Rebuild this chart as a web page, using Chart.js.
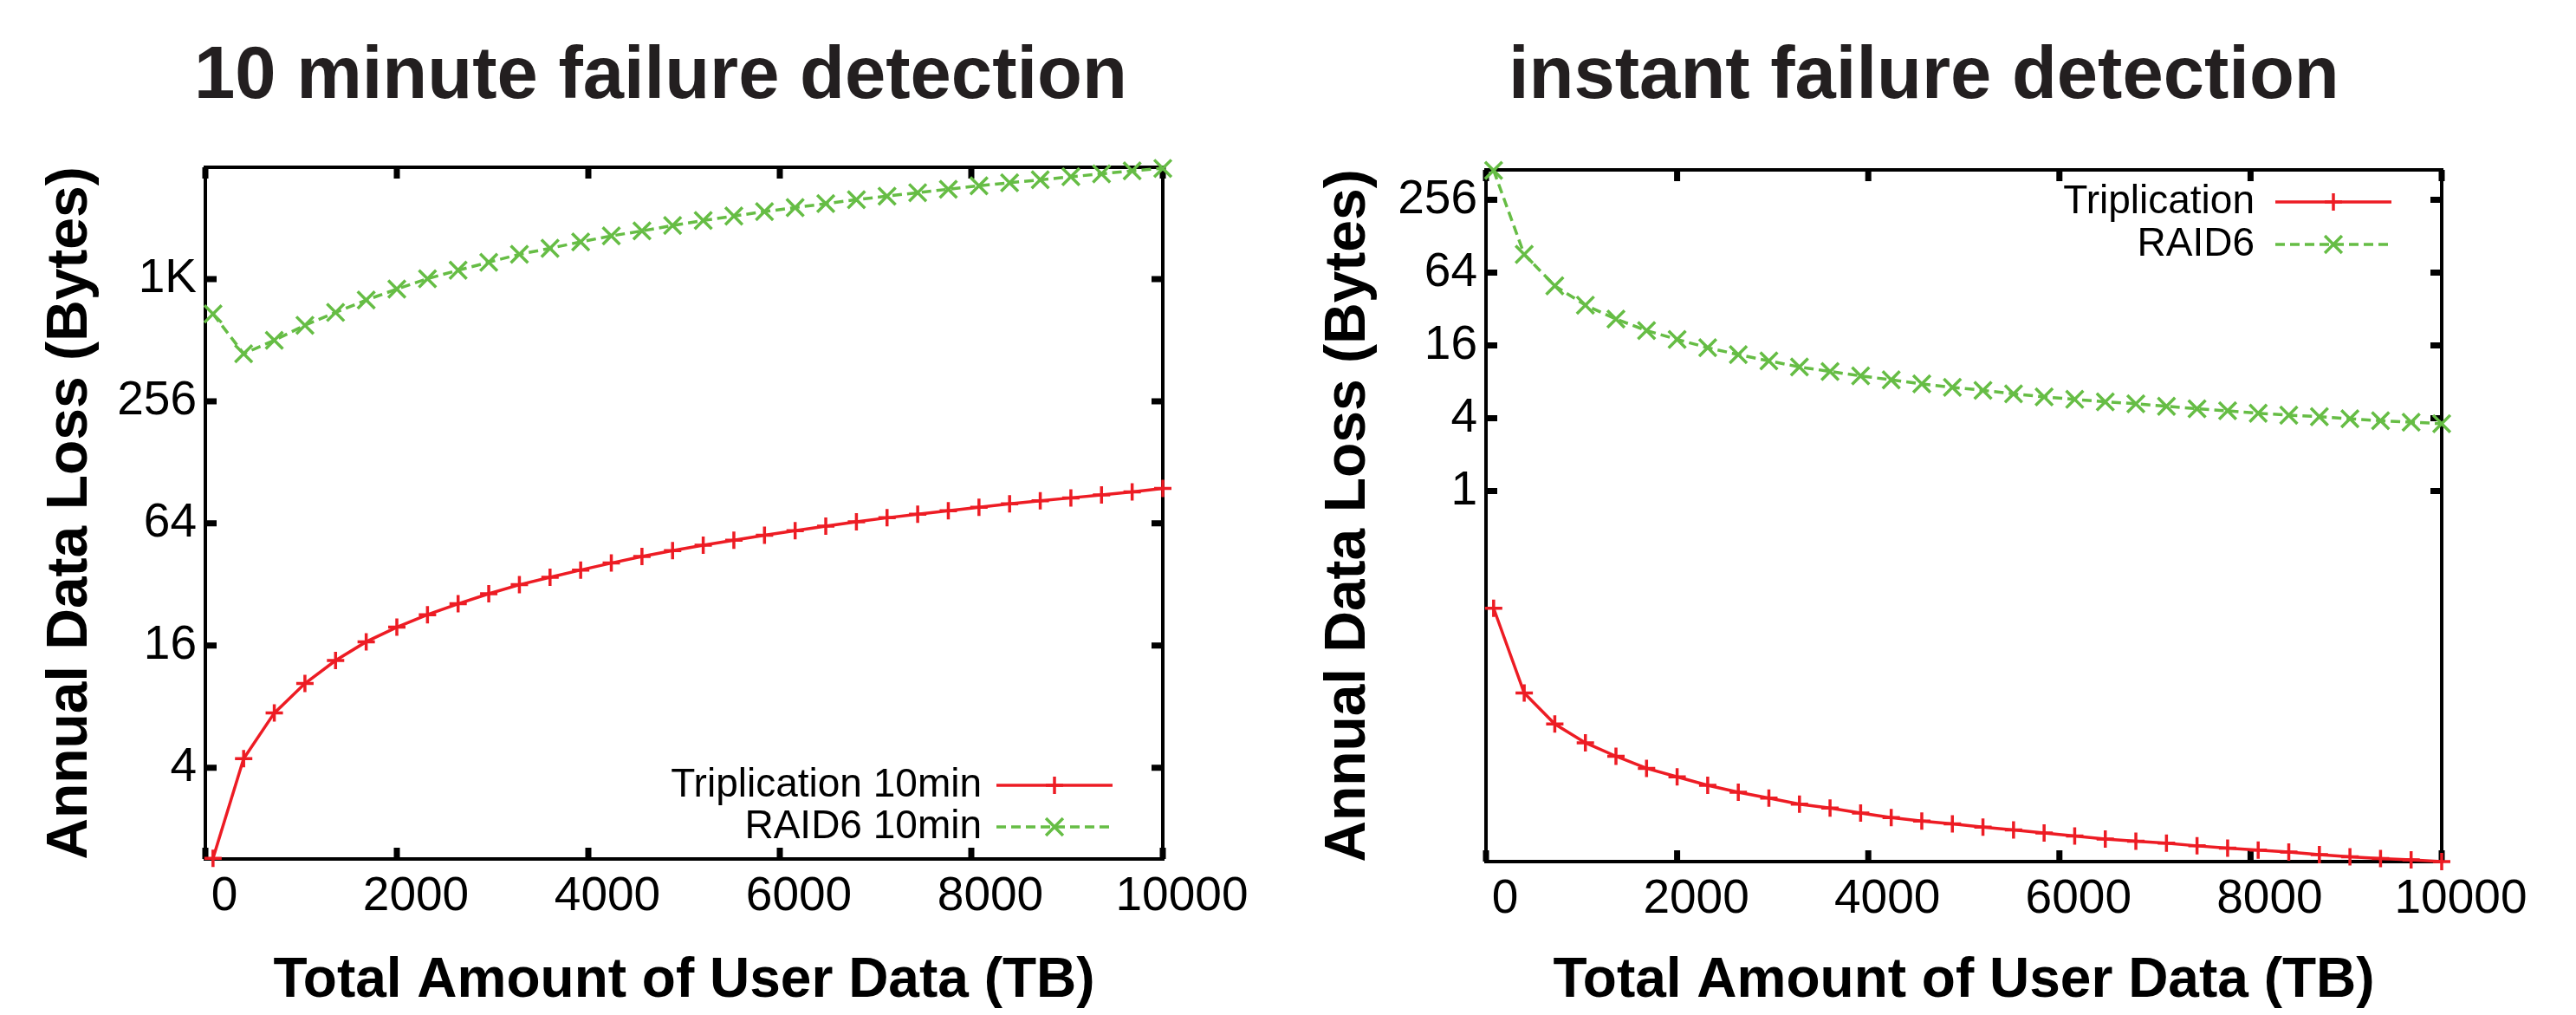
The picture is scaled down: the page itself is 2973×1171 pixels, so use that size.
<!DOCTYPE html>
<html>
<head>
<meta charset="utf-8">
<script src="https://cdn.jsdelivr.net/npm/chart.js@4.4.1/dist/chart.umd.min.js"></script>
<style>
  html, body { margin: 0; padding: 0; background: #fff; }
  #left { position: absolute; left: 0; top: 0; }
  #right { position: absolute; left: 1486px; top: 0; }
</style>
</head>
<body>
<canvas id="left" width="1486" height="1171"></canvas>
<canvas id="right" width="1487" height="1171"></canvas>
<script>
// total amount of user data (TB), shared by all four series
var userData = [80, 400, 720, 1040, 1360, 1680, 2000, 2320, 2640, 2960, 3280, 3600, 3920, 4240, 4560, 4880,
                5200, 5520, 5840, 6160, 6480, 6800, 7120, 7440, 7760, 8080, 8400, 8720, 9040, 9360, 9680, 10000];

// annual data loss (bytes), 10 minute failure detection
var triplication10min = [1.43, 4.43, 7.44, 10.4, 13.5, 16.7, 19.7, 22.7, 25.7, 28.8, 31.9, 34.7, 37.7, 40.8, 44.0, 47.0,
                         50.0, 52.9, 56.0, 58.9, 62.0, 65.2, 68.2, 71.0, 73.9, 76.8, 79.9, 82.7, 85.5, 88.4, 91.5, 95.2];
var raid6_10min = [689, 439, 511, 606, 701, 807, 914, 1028, 1132, 1239, 1356, 1451, 1561, 1671, 1768, 1881,
                   1990, 2093, 2202, 2304, 2410, 2521, 2623, 2729, 2838, 2952, 3054, 3159, 3268, 3380, 3497, 3595];

// annual data loss (bytes), instant failure detection
var triplicationInstant = [0.107, 0.0213, 0.0118, 0.00826, 0.00639, 0.00508, 0.00432, 0.00368, 0.00322, 0.00288, 0.00257,
                           0.00238, 0.00217, 0.00199, 0.00186, 0.00176, 0.00166, 0.00157, 0.00148, 0.00140, 0.00132,
                           0.00127, 0.00122, 0.00116, 0.00111, 0.00107, 0.00103, 0.00098, 0.00094, 0.00091, 0.00089, 0.00086];
var raid6Instant = [448, 90.4, 49.7, 34.4, 26.4, 21.2, 17.9, 15.3, 13.4, 11.9, 10.6, 9.73, 8.94, 8.29, 7.68, 7.19,
                    6.79, 6.35, 6.00, 5.72, 5.46, 5.26, 5.01, 4.78, 4.60, 4.39, 4.23, 4.11, 3.95, 3.81, 3.70, 3.60];

var xTicks = [0, 2000, 4000, 6000, 8000, 10000];
var leftYTicks = [4, 16, 64, 256, 1024];
var leftYLabels = ['4', '16', '64', '256', '1K'];
var rightYTicks = [1, 4, 16, 64, 256];
var rightYLabels = ['1', '4', '16', '64', '256'];

var FONT = '"Liberation Sans", Arial, Helvetica, sans-serif';
var RED = '#ed1c24';
var GREEN = '#66bd45';

function points(ys) {
    return userData.map(function (x, i) { return { x: x, y: ys[i] }; });
}

// gnuplot style box with inward ticks on all four sides
var framePlugin = {
    id: 'frame',
    beforeDatasetsDraw: function (chart) {
        var ctx = chart.ctx, a = chart.chartArea;
        var xs = chart.scales.x, ys = chart.scales.y;
        ctx.save();
        ctx.strokeStyle = '#000';
        ctx.lineWidth = 4;
        ctx.strokeRect(a.left, a.top, a.right - a.left, a.bottom - a.top);
        ctx.lineWidth = 7;
        ctx.beginPath();
        xs.ticks.forEach(function (t) {
            var px = xs.getPixelForValue(t.value);
            ctx.moveTo(px, a.bottom); ctx.lineTo(px, a.bottom - 13);
            ctx.moveTo(px, a.top); ctx.lineTo(px, a.top + 13);
        });
        ys.ticks.forEach(function (t) {
            var py = ys.getPixelForValue(t.value);
            ctx.moveTo(a.left, py); ctx.lineTo(a.left + 13, py);
            ctx.moveTo(a.right, py); ctx.lineTo(a.right - 13, py);
        });
        ctx.stroke();
        ctx.restore();
    }
};

// key: text on the left, line sample with marker on the right
var keyPlugin = {
    id: 'key',
    afterDatasetsDraw: function (chart, args, opts) {
        var ctx = chart.ctx, a = chart.chartArea;
        ctx.save();
        ctx.font = '46px ' + FONT;
        ctx.textAlign = 'right';
        ctx.textBaseline = 'middle';
        chart.data.datasets.forEach(function (ds, i) {
            var y = opts.fromTop ? a.top + opts.rows[i] : a.bottom - opts.rows[i];
            ctx.fillStyle = '#000';
            ctx.fillText(ds.label, a.right - opts.textRight, y);
            ctx.strokeStyle = ds.borderColor;
            ctx.lineWidth = ds.borderWidth;
            ctx.setLineDash(ds.borderDash || []);
            ctx.beginPath();
            ctx.moveTo(a.right - 192, y);
            ctx.lineTo(a.right - 58, y);
            ctx.stroke();
            ctx.setLineDash([]);
            var cx = a.right - 125, r = ds.pointRadius;
            ctx.beginPath();
            if (ds.pointStyle === 'cross') {
                ctx.moveTo(cx - r, y); ctx.lineTo(cx + r, y);
                ctx.moveTo(cx, y - r); ctx.lineTo(cx, y + r);
            } else {
                var d = r * Math.SQRT1_2;
                ctx.moveTo(cx - d, y - d); ctx.lineTo(cx + d, y + d);
                ctx.moveTo(cx + d, y - d); ctx.lineTo(cx - d, y + d);
            }
            ctx.stroke();
        });
        ctx.restore();
    }
};

// panel heading, placed where gnuplot put it
var headingPlugin = {
    id: 'heading',
    afterDraw: function (chart, args, opts) {
        var ctx = chart.ctx;
        ctx.save();
        ctx.font = 'bold 85px ' + FONT;
        ctx.fillStyle = '#231f20';
        ctx.textAlign = 'left';
        ctx.textBaseline = 'alphabetic';
        ctx.fillText(opts.text, opts.x, opts.y);
        ctx.restore();
    }
};

function lossChart(id, s) {
    return new Chart(document.getElementById(id).getContext('2d'), {
        type: 'line',
        data: {
            datasets: [{
                label: s.tripLabel,
                data: points(s.trip),
                borderColor: RED,
                backgroundColor: RED,
                borderWidth: 3.5,
                pointStyle: 'cross',
                pointRadius: 10,
                pointBorderWidth: 3.5,
                tension: 0,
                clip: false
            }, {
                label: s.raidLabel,
                data: points(s.raid),
                borderColor: GREEN,
                backgroundColor: GREEN,
                borderWidth: 3.5,
                borderDash: [11, 6],
                pointStyle: 'crossRot',
                pointRadius: 14,
                pointBorderWidth: 3.5,
                tension: 0,
                clip: false
            }]
        },
        options: {
            responsive: false,
            animation: false,
            layout: { padding: { left: 0, right: s.padRight, top: s.padTop, bottom: 0 } },
            scales: {
                x: {
                    type: 'linear',
                    min: 0,
                    max: 10000,
                    afterBuildTicks: function (scale) {
                        scale.ticks = xTicks.map(function (v) { return { value: v }; });
                    },
                    afterFit: function (scale) { scale.height = s.xAxisHeight; },
                    grid: { display: false, drawTicks: false },
                    border: { display: false },
                    ticks: {
                        color: '#000',
                        padding: 11,
                        labelOffset: 22,
                        maxRotation: 0,
                        autoSkip: false,
                        font: { family: FONT, size: 55 },
                        callback: function (v) { return String(v); }
                    },
                    title: {
                        display: true,
                        text: 'Total Amount of User Data (TB)',
                        color: '#000',
                        padding: { top: 0, bottom: 0 },
                        font: { family: FONT, size: 64, weight: 'bold' }
                    }
                },
                y: {
                    type: 'logarithmic',
                    min: s.yMin,
                    max: s.yMax,
                    afterBuildTicks: function (scale) {
                        scale.ticks = s.yTicks.map(function (v) { return { value: v }; });
                    },
                    afterFit: function (scale) { scale.width = s.yAxisWidth; },
                    grid: { display: false, drawTicks: false },
                    border: { display: false },
                    ticks: {
                        color: '#000',
                        padding: 10,
                        autoSkip: false,
                        font: { family: FONT, size: 55 },
                        callback: function (v) { return s.yLabels[s.yTicks.indexOf(v)]; }
                    },
                    title: {
                        display: true,
                        text: 'Annual Data Loss (Bytes)',
                        color: '#000',
                        padding: { top: s.yTitlePad, bottom: 0 },
                        font: { family: FONT, size: 66, weight: 'bold' }
                    }
                }
            },
            plugins: {
                legend: { display: false },
                tooltip: { enabled: false },
                heading: { text: s.title, x: s.titleX, y: 113 },
                key: s.key
            }
        },
        plugins: [framePlugin, keyPlugin, headingPlugin]
    });
}

lossChart('left', {
    title: '10 minute failure detection',
    titleX: 224,
    tripLabel: 'Triplication 10min',
    raidLabel: 'RAID6 10min',
    trip: triplication10min,
    raid: raid6_10min,
    yMin: 1.42,
    yMax: 3640,
    yTicks: leftYTicks,
    yLabels: leftYLabels,
    padTop: 193,
    padRight: 144,
    xAxisHeight: 180,
    yAxisWidth: 237,
    yTitlePad: 42,
    key: { fromTop: false, rows: [85, 37], textRight: 209 }
});

lossChart('right', {
    title: 'instant failure detection',
    titleX: 255,
    tripLabel: 'Triplication',
    raidLabel: 'RAID6',
    trip: triplicationInstant,
    raid: raid6Instant,
    yMin: 0.00086,
    yMax: 452,
    yTicks: rightYTicks,
    yLabels: rightYLabels,
    padTop: 196,
    padRight: 155,
    xAxisHeight: 177,
    yAxisWidth: 229,
    yTitlePad: 31,
    key: { fromTop: true, rows: [37, 86], textRight: 216 }
});
</script>
</body>
</html>
